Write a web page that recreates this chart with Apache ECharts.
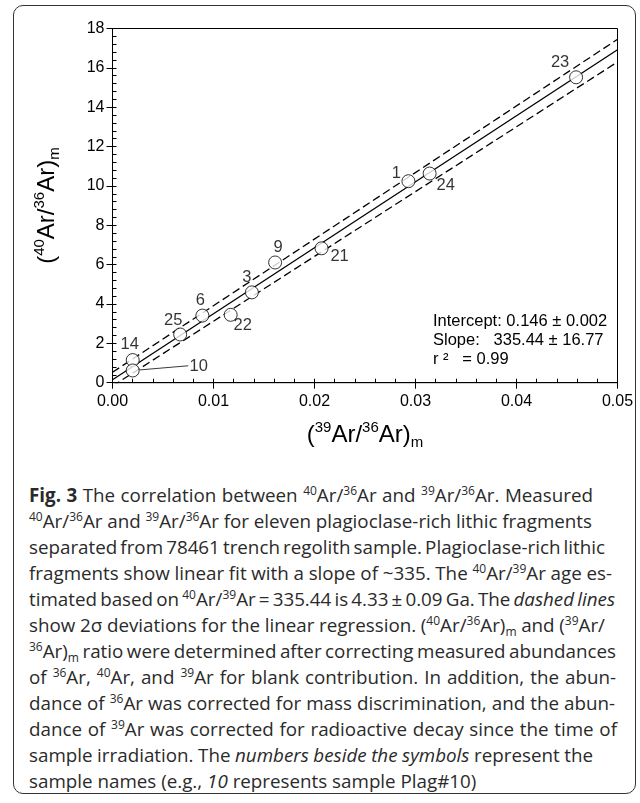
<!DOCTYPE html>
<html>
<head>
<meta charset="utf-8">
<script src="https://cdn.jsdelivr.net/npm/echarts/dist/echarts.min.js"></script>
<style>
  body { margin: 0; background: #fff; }
  #page { position: relative; width: 640px; height: 803px; overflow: hidden; }
  #frame { position: absolute; left: 13px; top: 5px; width: 621px; height: 787px;
           border: 1.5px solid #333; border-radius: 10px; }
  #chart { position: absolute; left: 0; top: 0; width: 640px; height: 460px; }
  #cap { position: absolute; left: 29px; top: 482px; font-family: "Open Sans", sans-serif;
         font-size: 18.8px; color: #2a2a2a; }
  #cap div { height: 26px; line-height: 26px; white-space: nowrap; }
  #cap span.ln { display: inline-block; }
  #cap sup, #cap sub { font-size: 12px; vertical-align: 0; position: relative; }
  #cap sup { top: -7px; }
  #cap sub { top: 4px; }
</style>
</head>
<body>
<div id="page">
  <div id="frame"></div>
  <div id="chart"></div>
  <div id="cap">
    <div><span class="ln"><b>Fig. 3</b> The correlation between <sup>40</sup>Ar/<sup>36</sup>Ar and <sup>39</sup>Ar/<sup>36</sup>Ar. Measured</span></div>
    <div><span class="ln"><sup>40</sup>Ar/<sup>36</sup>Ar and <sup>39</sup>Ar/<sup>36</sup>Ar for eleven plagioclase-rich lithic fragments</span></div>
    <div><span class="ln">separated from 78461 trench regolith sample. Plagioclase-rich lithic</span></div>
    <div><span class="ln">fragments show linear fit with a slope of ~335. The <sup>40</sup>Ar/<sup>39</sup>Ar age es-</span></div>
    <div><span class="ln">timated based on <sup>40</sup>Ar/<sup>39</sup>Ar&thinsp;=&thinsp;335.44 is 4.33&thinsp;±&thinsp;0.09 Ga. The <i>dashed lines</i></span></div>
    <div><span class="ln">show 2σ deviations for the linear regression. (<sup>40</sup>Ar/<sup>36</sup>Ar)<sub>m</sub> and (<sup>39</sup>Ar/</span></div>
    <div><span class="ln"><sup>36</sup>Ar)<sub>m</sub> ratio were determined after correcting measured abundances</span></div>
    <div><span class="ln">of <sup>36</sup>Ar, <sup>40</sup>Ar, and <sup>39</sup>Ar for blank contribution. In addition, the abun-</span></div>
    <div><span class="ln">dance of <sup>36</sup>Ar was corrected for mass discrimination, and the abun-</span></div>
    <div><span class="ln">dance of <sup>39</sup>Ar was corrected for radioactive decay since the time of</span></div>
    <div><span class="ln">sample irradiation. The <i>numbers beside the symbols</i> represent the</span></div>
    <div><span class="ln">sample names (e.g., <i>10</i> represents sample Plag#10)</span></div>
  </div>
</div>
<script>
// sample points
var sampleNames = ['14', '10', '25', '6', '22', '3', '9', '21', '1', '24', '23'];
var ratio39 = [0.0020, 0.0020, 0.0067, 0.0089, 0.0117, 0.0138, 0.0161, 0.0207, 0.0293, 0.0314, 0.0459];
var ratio40 = [1.15, 0.62, 2.45, 3.41, 3.45, 4.59, 6.11, 6.83, 10.24, 10.63, 15.52];

// regression line and 2 sigma bands
var fitLine = [[0, 0.146], [0.05, 16.918]];
var upperBand = [[0, 0.53], [0.05, 17.45]];
var lowerBand = [[0, -0.17], [0.05, 16.3]];
// leader from point 10 to its label
var leader10 = [[0.0027, 0.65], [0.0075, 0.86]];

var xTicks = { min: 0, max: 0.05, major: 0.01, minor: 0.002 };
var yTicks = { min: 0, max: 18, major: 2, minor: 0.4 };

var statsText = 'Intercept: 0.146 \u00b1 0.002\nSlope:   335.44 \u00b1 16.77\nr \u00b2   = 0.99';

// label placement next to each symbol (px)
var labelOffsets = [[-3, -16], [66, -4], [-7, -14], [-2, -15], [12, 11], [-5, -15],
                    [3, -15], [18, 8], [-12, -8], [16, 12], [-16, -15]];

// right edge of each caption line in the figure (px), null = leave as is
var captionLineEnds = [593, 592, 605, 612, 615, 605, 616, 616, 615, 617, 593, null];

var chart = echarts.init(document.getElementById('chart'));

var titleRich = {
  t: { fontSize: 24, fontFamily: 'Arial', color: '#000', lineHeight: 30 },
  s: { fontSize: 15, fontFamily: 'Arial', color: '#000', verticalAlign: 'top', lineHeight: 15 },
  m: { fontSize: 15, fontFamily: 'Arial', color: '#000', verticalAlign: 'bottom', lineHeight: 12 }
};

function mainAxis(t, extra) {
  return Object.assign({
    type: 'value', min: t.min, max: t.max, interval: t.major,
    axisLine: { show: true, lineStyle: { color: '#000', width: 1 } },
    axisTick: { show: true, inside: false, length: 6, lineStyle: { color: '#000' } },
    splitLine: { show: false }
  }, extra);
}

function minorAxis(t, pos) {
  return {
    type: 'value', min: t.min, max: t.max, interval: t.minor, position: pos,
    axisLine: { show: false },
    axisTick: { show: true, inside: true, length: 4, lineStyle: { color: '#000' } },
    axisLabel: { show: false },
    splitLine: { show: false }
  };
}

var lineStyleBase = { color: '#000', width: 1.3 };

chart.setOption({
  animation: false,
  grid: { left: 112.5, top: 28.5, width: 505, height: 354.2, show: true,
          borderColor: '#000', borderWidth: 1, backgroundColor: 'transparent' },
  xAxis: [
    mainAxis(xTicks, {
      position: 'bottom',
      axisLabel: { color: '#000', fontSize: 16, fontFamily: 'Arial', margin: 11,
                   formatter: function (v) { return v.toFixed(2); } },
      name: '{t|(}{s|39}{t|Ar/}{s|36}{t|Ar)}{m|m}',
      nameLocation: 'middle', nameGap: 38, nameTextStyle: { rich: titleRich }
    }),
    minorAxis(xTicks, 'bottom')
  ],
  yAxis: [
    mainAxis(yTicks, {
      position: 'left',
      axisLabel: { color: '#000', fontSize: 16, fontFamily: 'Arial', margin: 8 },
      name: '{t|(}{s|40}{t|Ar/}{s|36}{t|Ar)}{m|m}',
      nameLocation: 'middle', nameRotate: 90, nameGap: 50, nameTextStyle: { rich: titleRich }
    }),
    minorAxis(yTicks, 'left')
  ],
  graphic: [{
    type: 'text', left: 433, top: 312,
    style: { text: statsText, font: '16.5px Arial', fill: '#000', lineHeight: 19 }
  }],
  series: [
    { type: 'line', data: upperBand, symbol: 'none', z: 2,
      lineStyle: Object.assign({ type: [8, 4] }, lineStyleBase) },
    { type: 'line', data: lowerBand, symbol: 'none', z: 2,
      lineStyle: Object.assign({ type: [8, 4] }, lineStyleBase) },
    { type: 'line', data: fitLine, symbol: 'none', z: 2, lineStyle: lineStyleBase },
    { type: 'line', data: leader10, symbol: 'none', z: 2,
      lineStyle: { color: '#222', width: 0.9 } },
    {
      type: 'scatter', z: 5, symbol: 'circle', symbolSize: 13,
      itemStyle: { color: '#fff', borderColor: '#000', borderWidth: 1 },
      label: { show: true, position: 'inside', formatter: '{b}', color: '#000',
               textBorderWidth: 0, fontSize: 16.5, fontFamily: 'Arial' },
      data: ratio39.map(function (x, i) {
        return { name: sampleNames[i], value: [x, ratio40[i]],
                 label: { offset: labelOffsets[i] } };
      })
    }
  ]
});

// stretch or squeeze word gaps so each caption line ends where it does in the figure
var capLeft = 29;
var lines = document.querySelectorAll('#cap span.ln');
lines.forEach(function (el, i) {
  var end = captionLineEnds[i];
  if (end == null) return;
  var gaps = (el.textContent.match(/ /g) || []).length;
  if (!gaps) return;
  var w = el.getBoundingClientRect().width;
  el.style.wordSpacing = ((end - capLeft - w) / gaps) + 'px';
});
</script>
</body>
</html>
